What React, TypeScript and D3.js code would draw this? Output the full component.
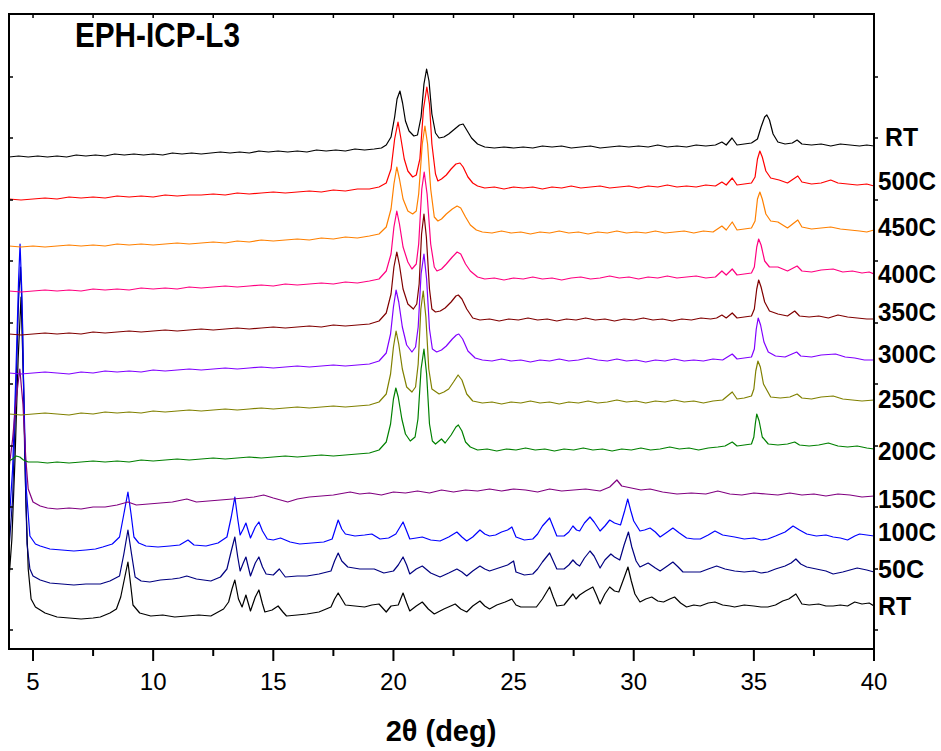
import React from "react";
import * as d3 from "d3";

// Each trace: flat list of [2θ (deg), intensity (a.u., stacked)] pairs
const rtTop = [4.0,492,4.4,493,4.8,492,5.2,493,5.6,492,6.0,493,6.4,492,6.8,494,7.2,493,7.6,494,8.0,493,8.4,495,8.8,494,9.2,495,9.6,494,10.0,495,10.4,494,10.8,496,11.2,495,11.6,496,12.0,495,12.4,496,12.8,497,13.2,496,13.6,497,14.0,496,14.4,498,14.8,497,15.2,498,15.6,497,16.0,498,16.4,497,16.8,499,17.2,498,17.6,499,18.0,498,18.4,500,18.8,499,19.2,500,19.5,501,19.7,504,19.9,512,20.05,532,20.15,550,20.27,558,20.38,546,20.5,528,20.65,518,20.85,513,21.0,514,21.15,532,21.27,565,21.38,580,21.48,568,21.6,535,21.75,516,21.9,511,22.1,512,22.3,515,22.55,520,22.75,524,22.9,525,23.05,519,23.25,511,23.5,505,23.8,502,24.2,501,24.6,502,25.0,501,25.4,502,25.8,501,26.2,503,26.6,502,27.0,503,27.4,501,27.8,502,28.2,503,28.6,501,29.0,502,29.4,503,29.8,502,30.2,503,30.6,502,31.0,504,31.4,502,31.8,503,32.2,502,32.6,504,33.0,503,33.4,504,33.67,507,33.85,504,34.09,511,34.3,504,34.6,505,34.9,506,35.15,510,35.3,522,35.45,532,35.54,534,35.65,529,35.8,515,36.0,507,36.3,505,36.6,506,36.8,509,37.0,505,37.4,504,37.8,505,38.2,503,38.6,505,39.0,504,39.4,503,39.7,504,40.0,503];
const c500 = [4.0,450,4.5,449,5.0,450,5.5,451,6.0,450,6.5,452,7.0,451,7.5,452,8.0,451,8.5,453,9.0,452,9.5,453,10.0,452,10.5,454,11.0,453,11.5,454,12.0,454,12.5,455,13.0,454,13.5,456,14.0,455,14.5,456,15.0,457,15.5,456,16.0,457,16.5,458,17.0,457,17.5,459,18.0,458,18.5,460,19.0,460,19.4,462,19.7,466,19.9,480,20.05,510,20.19,527,20.3,512,20.45,490,20.6,478,20.8,472,20.95,474,21.1,490,21.25,540,21.39,562,21.5,545,21.6,505,21.75,475,21.85,468,22.0,470,22.2,474,22.4,480,22.6,485,22.77,486,22.9,482,23.1,472,23.3,466,23.5,463,23.8,461,24.2,462,24.6,460,25.0,462,25.4,461,25.8,462,26.2,460,26.6,462,27.0,461,27.4,463,27.8,461,28.2,462,28.6,463,29.0,461,29.4,462,29.8,463,30.2,461,30.6,463,31.0,462,31.4,464,31.8,462,32.2,463,32.6,462,33.0,464,33.4,463,33.67,467,33.85,464,34.1,471,34.3,464,34.6,465,34.9,466,35.05,472,35.15,490,35.25,498,35.35,492,35.5,478,35.7,471,36.05,469,36.4,466,36.83,473,37.0,467,37.4,465,37.8,466,38.2,469,38.5,466,38.9,465,39.3,464,39.7,465,40.0,463];
const c450 = [4.0,403,4.5,402,5.0,403,5.5,402,6.0,403,6.5,404,7.0,403,7.5,404,8.0,403,8.5,405,9.0,404,9.5,405,10.0,404,10.5,405,11.0,406,11.5,405,12.0,406,12.5,407,13.0,406,13.5,408,14.0,407,14.5,409,15.0,408,15.5,409,16.0,410,16.5,409,17.0,411,17.5,410,18.0,412,18.5,411,19.0,413,19.4,415,19.7,422,19.9,440,20.02,465,20.14,482,20.25,470,20.4,450,20.6,438,20.8,435,20.95,438,21.05,455,21.2,505,21.31,523,21.42,505,21.55,460,21.7,432,21.85,428,22.0,430,22.2,435,22.45,440,22.65,443,22.8,441,23.0,432,23.2,424,23.45,419,23.7,417,24.1,416,24.5,418,24.9,416,25.3,417,25.7,415,26.1,417,26.5,416,26.9,418,27.3,416,27.7,417,28.1,415,28.5,417,28.9,416,29.3,418,29.7,416,30.1,417,30.5,416,30.9,418,31.3,416,31.7,417,32.1,418,32.5,416,32.9,418,33.3,417,33.67,423,33.85,419,34.1,427,34.3,419,34.6,420,34.9,421,35.05,428,35.15,450,35.25,457,35.35,450,35.5,435,35.7,428,36.0,427,36.4,421,36.83,429,37.0,422,37.4,420,37.8,421,38.2,422,38.6,420,39.0,419,39.4,418,39.7,417,40.0,419];
const c400 = [4.0,358,4.5,357,5.0,358,5.5,359,6.0,358,6.5,359,7.0,358,7.5,360,8.0,359,8.5,360,9.0,359,9.5,361,10.0,360,10.5,361,11.0,360,11.5,362,12.0,361,12.5,362,13.0,363,13.5,362,14.0,363,14.5,364,15.0,363,15.5,365,16.0,364,16.5,365,17.0,366,17.5,365,18.0,367,18.5,366,19.0,368,19.4,370,19.7,378,19.9,395,20.02,422,20.14,438,20.25,425,20.4,402,20.6,387,20.77,380,20.95,385,21.05,405,21.18,460,21.28,477,21.4,455,21.55,405,21.7,382,21.81,378,22.0,380,22.2,385,22.45,392,22.65,397,22.8,395,23.0,385,23.2,378,23.5,372,23.8,370,24.2,371,24.6,369,25.0,371,25.4,370,25.8,372,26.2,370,26.6,371,27.0,369,27.4,371,27.8,372,28.2,370,28.6,371,29.0,373,29.4,371,29.8,372,30.2,370,30.6,372,31.0,371,31.4,373,31.8,371,32.2,372,32.6,373,33.0,371,33.4,372,33.67,378,33.85,374,34.1,380,34.3,374,34.6,375,34.9,376,35.02,382,35.12,402,35.2,410,35.3,404,35.45,388,35.65,382,36.0,382,36.4,378,36.8,383,37.0,378,37.4,377,37.8,379,38.3,380,38.7,377,39.1,378,39.5,376,39.8,377,40.0,375];
const c350 = [4.0,315,4.5,314,5.0,315,5.5,316,6.0,315,6.5,316,7.0,315,7.5,317,8.0,316,8.5,317,9.0,318,9.5,317,10.0,318,10.5,319,11.0,318,11.5,319,12.0,320,12.5,319,13.0,320,13.5,321,14.0,320,14.5,321,15.0,322,15.5,321,16.0,322,16.5,323,17.0,322,17.5,324,18.0,323,18.5,324,19.0,325,19.4,328,19.7,336,19.9,355,20.02,382,20.14,397,20.25,384,20.4,360,20.6,345,20.83,340,20.97,345,21.07,365,21.17,415,21.27,435,21.37,412,21.5,360,21.6,340,21.75,337,21.95,338,22.15,341,22.4,347,22.6,353,22.7,354,22.85,350,23.05,340,23.3,331,23.6,329,24.0,330,24.4,328,24.8,330,25.2,329,25.6,331,26.0,329,26.4,330,26.8,328,27.2,330,27.6,329,28.0,331,28.4,329,28.8,330,29.2,328,29.6,330,30.0,329,30.4,331,30.8,329,31.2,330,31.6,328,32.0,330,32.4,329,32.8,331,33.2,330,33.45,331,33.67,334,33.85,331,34.1,336,34.3,331,34.6,332,34.9,333,35.02,340,35.12,360,35.2,369,35.3,362,35.45,347,35.65,338,36.0,335,36.4,333,36.7,338,36.9,333,37.3,332,37.7,333,38.1,331,38.5,334,38.9,332,39.3,331,39.7,330,40.0,330];
const c300 = [4.0,276,4.5,275,5.0,276,5.5,277,6.0,276,6.5,275,7.0,277,7.5,276,8.0,278,8.5,277,9.0,278,9.5,277,10.0,279,10.5,278,11.0,279,11.5,280,12.0,279,12.5,280,13.0,281,13.5,280,14.0,281,14.5,282,15.0,281,15.5,282,16.0,283,16.5,282,17.0,283,17.5,284,18.0,283,18.5,284,19.0,285,19.4,288,19.7,296,19.88,315,20.0,342,20.11,359,20.22,347,20.37,322,20.55,304,20.77,297,20.92,302,21.03,322,21.15,375,21.27,395,21.38,370,21.5,320,21.62,300,21.8,297,22.0,299,22.2,303,22.45,310,22.62,314,22.72,315,22.88,310,23.1,298,23.4,291,23.7,289,24.1,288,24.5,290,24.9,288,25.3,289,25.7,287,26.1,289,26.5,288,26.9,290,27.3,288,27.7,289,28.1,291,28.5,289,28.9,288,29.3,290,29.7,288,30.1,289,30.5,287,30.9,289,31.3,288,31.7,290,32.1,288,32.5,289,32.9,288,33.3,290,33.7,289,34.1,295,34.3,290,34.6,291,34.9,292,35.02,300,35.1,320,35.18,331,35.28,324,35.42,307,35.6,297,35.9,293,36.3,292,36.78,297,36.95,293,37.4,292,37.8,294,38.4,295,38.8,292,39.2,291,39.6,289,40.0,289];
const c250 = [4.0,235,4.5,234,5.0,235,5.5,236,6.0,235,6.5,234,7.0,236,7.5,235,8.0,237,8.5,236,9.0,237,9.5,236,10.0,238,10.5,237,11.0,238,11.5,239,12.0,238,12.5,239,13.0,240,13.5,239,14.0,240,14.5,241,15.0,240,15.5,241,16.0,242,16.5,241,17.0,242,17.5,243,18.0,242,18.5,243,19.0,244,19.4,247,19.7,255,19.88,275,20.0,302,20.11,318,20.22,305,20.37,280,20.55,262,20.77,257,20.92,262,21.03,285,21.14,340,21.24,358,21.35,332,21.47,280,21.6,260,21.9,255,22.1,257,22.3,260,22.5,267,22.69,274,22.85,269,23.05,255,23.3,248,23.7,246,24.1,247,24.5,245,24.9,247,25.3,246,25.7,248,26.1,246,26.5,247,26.9,245,27.3,247,27.7,246,28.1,248,28.5,246,28.9,247,29.3,249,29.7,247,30.1,248,30.5,246,30.9,248,31.3,247,31.7,249,32.1,247,32.5,248,32.9,246,33.3,248,33.7,249,34.1,257,34.3,250,34.6,251,34.9,253,35.0,260,35.08,278,35.17,288,35.27,282,35.4,265,35.7,252,36.1,251,36.5,252,36.8,255,37.0,251,37.4,250,37.8,252,38.3,253,38.7,250,39.1,249,39.5,248,40.0,249];
const c200 = [4.0,188,4.15,190,4.3,193,4.45,192,4.6,189,4.8,187,5.2,187,5.6,186,6.0,187,6.5,186,7.0,187,7.5,188,8.0,187,8.5,188,9.0,187,9.5,189,10.0,188,10.5,189,11.0,190,11.5,189,12.0,190,12.5,191,13.0,190,13.5,191,14.0,192,14.5,191,15.0,192,15.5,193,16.0,192,16.5,193,17.0,194,17.5,193,18.0,194,18.5,195,19.0,196,19.4,199,19.7,207,19.88,225,20.0,250,20.1,261,20.2,252,20.35,230,20.5,215,20.7,208,20.9,212,21.02,230,21.15,280,21.27,300,21.38,275,21.5,225,21.62,208,21.75,205,21.9,208,22.0,210,22.15,206,22.4,214,22.6,222,22.7,224,22.85,218,23.0,207,23.2,202,23.5,199,23.9,200,24.3,198,24.7,200,25.1,199,25.5,201,25.9,199,26.3,200,26.7,198,27.1,200,27.5,199,27.9,201,28.3,199,28.7,200,29.1,198,29.5,200,29.9,199,30.3,201,30.7,199,31.1,200,31.5,202,31.9,200,32.3,201,32.7,199,33.1,201,33.5,202,33.8,203,34.1,207,34.3,203,34.6,204,34.9,205,35.0,212,35.06,225,35.12,235,35.22,228,35.35,212,35.6,205,36.0,204,36.4,205,36.7,207,36.9,204,37.3,203,37.7,204,38.1,206,38.5,203,38.9,202,39.3,203,39.7,201,40.0,200];
const c150 = [4.0,180,4.15,210,4.3,250,4.45,280,4.58,245,4.7,190,4.8,160,5.0,147,5.3,143,5.6,141,6.0,140,6.5,141,7.0,140,7.5,142,8.0,142,8.5,144,8.95,147,9.3,144,9.8,145,10.3,146,10.8,147,11.4,150,11.8,147,12.3,148,12.8,149,13.3,150,13.8,151,14.2,152,14.6,154,15.0,151,15.6,147,16.0,150,16.5,152,17.0,153,17.5,154,18.2,157,18.6,155,19.0,156,19.5,154,20.0,157,20.5,156,21.0,158,21.5,156,22.0,159,22.5,157,23.0,159,23.5,158,24.0,160,24.5,158,25.0,160,25.5,159,26.0,157,26.5,160,27.0,158,27.5,159,28.0,160,28.6,158,29.0,162,29.3,169,29.5,163,29.9,161,30.3,159,30.68,160,31.2,157,31.8,155,32.4,156,33.0,155,33.5,158,34.0,155,34.5,154,35.0,156,35.5,155,36.0,154,36.5,156,37.0,154,37.5,155,38.0,153,38.5,155,39.0,154,39.5,152,40.0,153];
const c100 = [4.0,125,4.15,180,4.28,270,4.4,370,4.46,405,4.53,360,4.62,250,4.72,160,4.87,113,5.1,105,5.3,103,5.7,100,6.2,99,6.7,98,7.2,99,7.6,100,7.9,102,8.3,105,8.6,112,8.78,135,8.95,157,9.08,135,9.2,112,9.4,106,9.7,103,10.2,102,10.7,103,11.1,104,11.45,109,11.7,104,12.2,103,12.7,106,13.07,112,13.25,132,13.4,152,13.52,130,13.62,114,13.75,120,13.86,126,13.96,118,14.05,111,14.25,122,14.4,127,14.55,118,14.75,110,15.0,109,15.3,111,15.7,107,16.1,105,16.6,106,17.1,107,17.45,110,17.7,129,17.85,120,18.0,115,18.4,113,18.8,114,19.1,115,19.44,110,19.8,111,20.1,115,20.4,127,20.55,118,20.68,110,20.95,111,21.2,112,21.55,109,21.94,108,22.3,112,22.64,117,22.85,112,23.05,108,23.3,112,23.6,119,23.8,115,24.0,113,24.25,114,24.5,117,24.75,119,24.93,122,25.1,112,25.45,109,25.8,110,26.0,115,26.2,123,26.5,131,26.65,122,26.8,113,27.1,113,27.3,117,27.47,123,27.62,119,27.75,118,27.95,126,28.18,132,28.35,127,28.6,118,28.8,123,29.0,129,29.2,126,29.45,124,29.62,138,29.75,150,29.88,138,30.0,128,30.26,118,30.45,119,30.68,121,30.9,117,31.1,112,31.4,117,31.63,121,31.9,116,32.2,111,32.5,110,32.77,110,33.1,114,33.38,118,33.7,114,34.2,112,34.6,110,35.0,111,35.3,109,35.58,110,35.9,113,36.3,117,36.63,123,36.9,119,37.2,115,37.6,113,38.0,114,38.3,112,38.6,111,38.9,109,39.2,113,39.4,115,39.7,114,40.0,113];
const c50 = [4.0,100,4.15,150,4.28,250,4.4,350,4.48,382,4.56,330,4.65,200,4.75,105,4.87,80,5.0,73,5.3,69,5.7,66,6.2,65,6.7,64,7.2,65,7.8,65,8.2,68,8.6,73,8.78,95,8.95,119,9.1,95,9.25,72,9.5,68,9.86,67,10.3,69,10.8,70,11.1,71,11.4,73,11.8,70,12.4,68,12.8,72,13.07,80,13.25,98,13.4,112,13.52,92,13.62,78,13.75,86,13.86,92,13.96,82,14.05,73,14.25,86,14.4,92,14.55,82,14.7,75,15.0,74,15.25,80,15.5,72,16.0,73,16.4,73,16.9,75,17.4,78,17.55,88,17.7,96,17.85,88,18.1,82,18.6,80,19.2,80,19.6,76,20.0,78,20.2,84,20.4,92,20.55,84,20.68,75,20.95,80,21.2,83,21.55,76,21.94,72,22.3,76,22.64,80,22.85,77,23.05,73,23.3,78,23.6,83,23.8,80,24.0,78,24.25,80,24.5,82,24.75,84,25.0,88,25.1,77,25.45,74,25.8,75,26.0,80,26.2,87,26.5,96,26.65,88,26.8,80,27.1,80,27.3,84,27.47,89,27.62,85,27.75,83,27.95,91,28.18,98,28.35,93,28.6,81,28.8,89,29.05,95,29.2,92,29.42,89,29.6,104,29.78,117,29.92,102,30.1,88,30.26,82,30.6,86,30.9,81,31.1,78,31.4,83,31.63,87,31.85,82,32.05,77,32.4,77,32.77,77,33.1,80,33.45,83,33.8,80,34.2,78,34.6,77,35.0,78,35.3,76,35.58,77,35.9,80,36.3,83,36.55,86,36.75,90,36.95,85,37.2,82,37.6,80,38.0,78,38.3,75,38.7,77,39.0,79,39.3,81,39.7,79,40.0,77];
const rtBottom = [4.0,70,4.12,110,4.25,190,4.38,290,4.5,352,4.6,270,4.7,150,4.8,80,4.92,50,5.1,42,5.5,36,6.0,32,6.5,31,7.0,30,7.5,31,7.8,32,8.2,36,8.47,40,8.65,52,8.82,72,8.95,87,9.06,65,9.16,44,9.44,36,9.9,33,10.4,34,10.9,32,11.4,33,11.9,34,12.4,33,12.93,40,13.14,47,13.28,60,13.4,69,13.55,50,13.7,42,13.86,54,14.05,38,14.25,52,14.4,59,14.55,45,14.65,37,14.95,39,15.2,43,15.4,37,15.55,33,16.0,34,16.4,35,16.9,37,17.4,42,17.55,50,17.7,56,17.85,50,18.0,44,18.4,43,18.8,42,19.1,44,19.4,45,19.7,37,19.9,43,20.2,44,20.4,56,20.55,46,20.68,38,20.95,43,21.2,47,21.45,40,21.7,35,22.1,40,22.57,45,22.8,40,23.05,37,23.3,43,23.6,48,23.8,43,24.0,40,24.3,44,24.65,47,24.93,50,25.1,44,25.3,42,25.95,42,26.2,50,26.5,62,26.65,52,26.8,43,27.1,44,27.3,50,27.47,55,27.6,50,27.75,54,28.0,58,28.3,62,28.45,54,28.6,45,28.8,55,29.0,62,29.2,58,29.38,57,29.58,70,29.76,82,29.9,68,30.05,55,30.26,47,30.5,50,30.75,52,31.0,48,31.24,47,31.5,50,31.7,52,31.95,46,32.2,42,32.5,44,32.77,43,33.1,46,33.38,47,33.7,44,34.0,43,34.2,42,34.6,44,35.0,43,35.3,42,35.58,42,35.9,44,36.2,48,36.45,50,36.75,55,37.0,45,37.3,44,37.7,45,38.0,43,38.3,43,38.6,44,38.9,43,39.2,47,39.5,45,39.8,46,40.0,43];

const seriesNames = ["RT", "500C", "450C", "400C", "350C", "300C", "250C", "200C", "150C", "100C", "50C", "RT"];
const seriesData = [rtTop, c500, c450, c400, c350, c300, c250, c200, c150, c100, c50, rtBottom];
const seriesColors = ["#000000", "#ff0000", "#ff8000", "#ff0080", "#800000", "#8000ff", "#808000", "#008000", "#800080", "#0000ff", "#000080", "#000000"];
// intensity level (a.u.) at which each label sits beside the right axis
const labelLevels = [512, 468, 422, 375, 337, 295, 250, 198, 150, 117, 80, 43];

const xTicks = [5, 10, 15, 20, 25, 30, 35, 40];
const xMinorTicks = [7.5, 12.5, 17.5, 22.5, 27.5, 32.5, 37.5];
const yTicks = [19, 80, 142, 203, 265, 326, 388, 449, 511, 572];

const W = 941, H = 751;
const L = 9, R = 874, T = 14, B = 649;

function pairs(flat: number[]): [number, number][] {
  const out: [number, number][] = [];
  for (let i = 0; i < flat.length; i += 2) out.push([flat[i], flat[i + 1]]);
  return out;
}

export default function App() {
  const x = d3.scaleLinear().domain([4, 40]).range([L, R]);
  const y = d3.scaleLinear().domain([0, 635]).range([B, T]);
  const line = d3.line<[number, number]>().x(d => x(d[0])).y(d => y(d[1]));
  const font = "'Liberation Sans', Arial, sans-serif";
  const labelWidth = (s: string) => (s === "RT" ? 33 : s.length === 3 ? 46 : 58);

  const order = seriesData.map((_, i) => i).reverse();

  return (
    <svg width={W} height={H} style={{ position: "absolute", left: 0, top: 0, background: "#fff" }}>
      <defs>
        <clipPath id="plot">
          <rect x={L} y={T} width={R - L} height={B - T} />
        </clipPath>
      </defs>
      <g clipPath="url(#plot)">
        {order.map(i => (
          <path key={i} d={line(pairs(seriesData[i])) || ""} fill="none" stroke={seriesColors[i]} strokeWidth={1.2} strokeLinejoin="round" />
        ))}
      </g>
      {/* frame */}
      <rect x={L} y={T} width={R - L} height={B - T} fill="none" stroke="#000" strokeWidth={2} />
      {/* bottom ticks */}
      {xTicks.map(t => (
        <line key={"xt" + t} x1={x(t)} x2={x(t)} y1={B} y2={B + 12} stroke="#000" strokeWidth={2} />
      ))}
      {xMinorTicks.map(t => (
        <line key={"xm" + t} x1={x(t)} x2={x(t)} y1={B} y2={B + 7} stroke="#000" strokeWidth={2} />
      ))}
      {/* top ticks */}
      {[...xTicks, ...xMinorTicks].map(t => (
        <line key={"tt" + t} x1={x(t)} x2={x(t)} y1={T} y2={T + 4} stroke="#000" strokeWidth={1.5} />
      ))}
      {/* y ticks */}
      {yTicks.map(t => (
        <g key={"yt" + t}>
          <line x1={L} x2={L + 4} y1={y(t)} y2={y(t)} stroke="#000" strokeWidth={1.5} />
          <line x1={R} x2={R + 4} y1={y(t)} y2={y(t)} stroke="#000" strokeWidth={1.5} />
        </g>
      ))}
      {xTicks.map(t => (
        <text key={"xl" + t} x={x(t)} y={690} textAnchor="middle" fontFamily={font} fontSize={24} fill="#000">
          {t}
        </text>
      ))}
      <text x={441} y={741} textAnchor="middle" fontFamily={font} fontSize={29} fontWeight="bold" fill="#000">
        2θ (deg)
      </text>
      <text x={75} y={47} fontFamily={font} fontSize={35} fontWeight="bold" fill="#000" textLength={165} lengthAdjust="spacingAndGlyphs">
        EPH-ICP-L3
      </text>
      {seriesNames.map((s, i) => (
        <text
          key={"lab" + i}
          x={i === 0 ? 885 : 878}
          y={y(labelLevels[i]) + 9}
          fontFamily={font}
          fontSize={25}
          fontWeight="bold"
          fill="#000"
          textLength={labelWidth(s)}
          lengthAdjust="spacingAndGlyphs"
        >
          {s}
        </text>
      ))}
    </svg>
  );
}
